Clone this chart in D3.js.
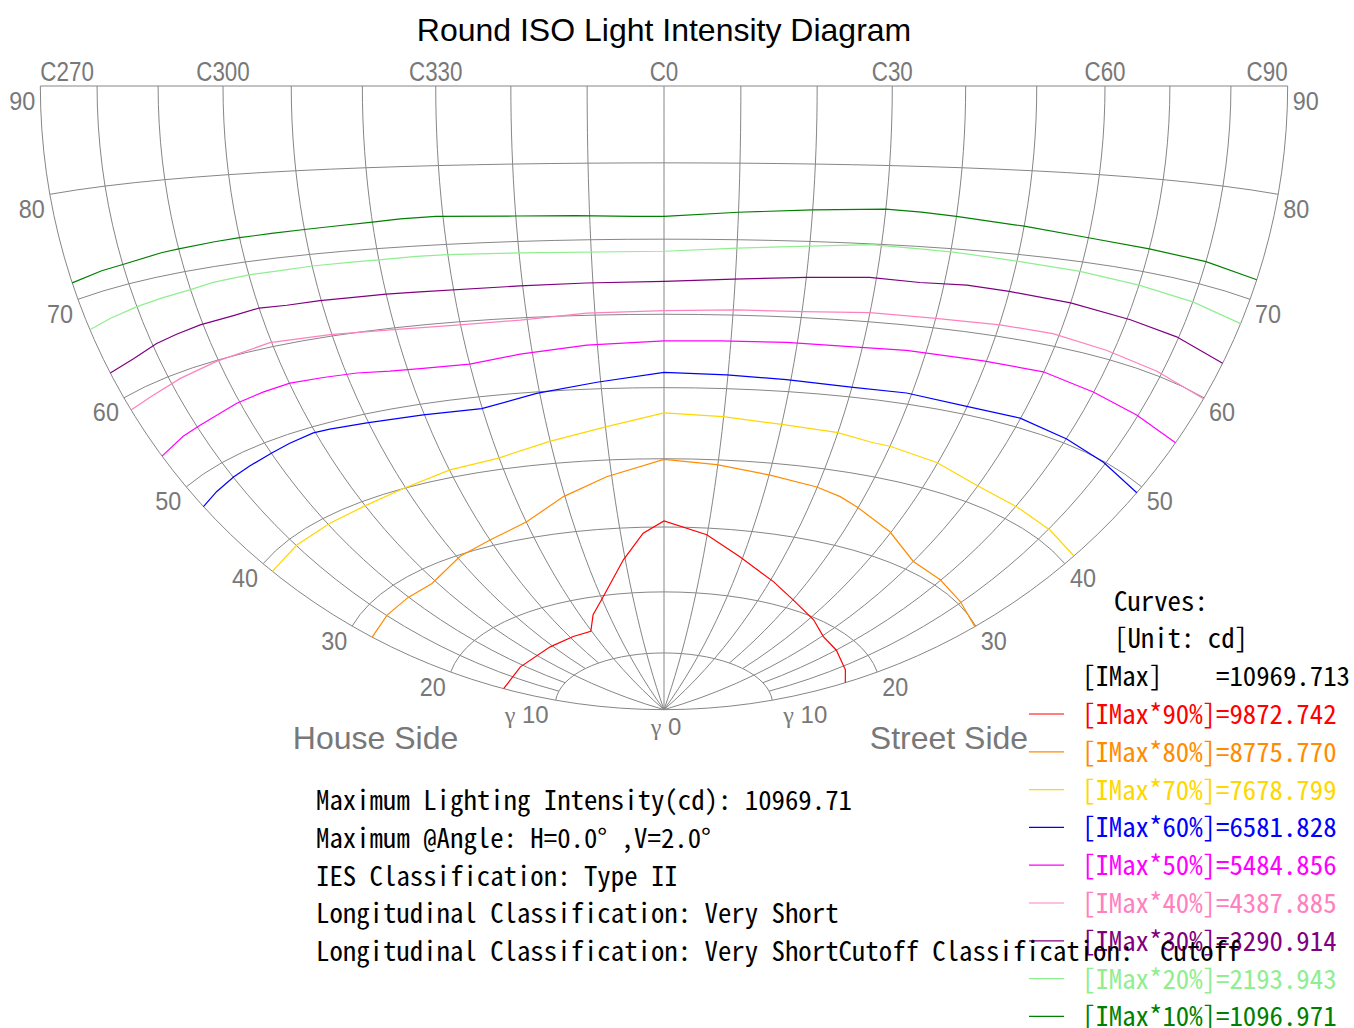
<!DOCTYPE html>
<html>
<head>
<meta charset="utf-8">
<title>Round ISO Light Intensity Diagram</title>
<script src="https://cdn.jsdelivr.net/npm/d3@7"></script>
<style>
  body { margin: 0; background: #fff; }
  svg { display: block; }
</style>
</head>
<body>
<div id="chart"></div>
<script>
const width = 1354, height = 1028;

const chartTitle = "Round ISO Light Intensity Diagram";
const planeTicks = [-90, -60, -30, 0, 30, 60, 90];
const planeLabels = ["C270", "C300", "C330", "C0", "C30", "C60", "C90"];
const gammaRings = [10, 20, 30, 40, 50, 60, 70, 80, 90];
const gammaLabels = ["10", "20", "30", "40", "50", "60", "70", "80", "90"];
const gridPlanes = [-90, -80, -70, -60, -50, -40, -30, -20, -10, 0, 10, 20, 30, 40, 50, 60, 70, 80, 90];
const innerPlanes = [-90, -60, -30, -20, -10, 0, 10, 20, 30, 60, 90];

const maxIntensity = 10969.713;
const levelNames = ["[IMax*90%]", "[IMax*80%]", "[IMax*70%]", "[IMax*60%]", "[IMax*50%]", "[IMax*40%]", "[IMax*30%]", "[IMax*20%]", "[IMax*10%]"];
const levelValues = [9872.742, 8775.770, 7678.799, 6581.828, 5484.856, 4387.885, 3290.914, 2193.943, 1096.971];
const levelColors = ["#ff0000", "#ff8c00", "#ffd700", "#0000ff", "#ff00ff", "#ff80c0", "#800080", "#90ee90", "#008000"];

// isocandela curves as [C angle, gamma angle], C270 written as -90
const iso90 = [[-90,14.9],[-71.6,14.6],[-51.2,14.6],[-38.6,14.8],[-30.3,14.9],[-25.5,17.3],[-19.3,19.8],[-10.5,25.2],[-4.8,29.1],[0,30.9],[9.9,29.0],[19.2,26.1],[31,23.2],[40.2,21.3],[51.5,19.7],[60.5,18.4],[70.1,18.0],[82.5,17.4],[90,16.9]];
const iso80 = [[-90,27.9],[-79.8,28.0],[-70.3,28.0],[-61.3,28.0],[-49.2,29.8],[-40,30.8],[-29.9,32.3],[-20.3,35.2],[-11,37.6],[0,39.9],[9.8,39.3],[20.2,38.3],[29.9,37.4],[35.3,36.6],[39.6,35.7],[49.7,33.6],[60,31.2],[69.8,30.8],[79.6,30.3],[90,29.9]];
const iso70 = [[-90,38.9],[-79.8,39.1],[-69.5,39.2],[-60.5,39.4],[-50.5,40.0],[-39.9,41.0],[-30.5,41.5],[-20.1,43.1],[-9.8,44.7],[0,46.5],[9.9,46.1],[19.7,45.5],[29.8,45.1],[36.8,44.4],[40,44.3],[49.8,43.5],[59.7,42.2],[70.2,41.7],[80.4,41.4],[90,41.1]];
const iso60 = [[-90,47.6],[-85.2,47.9],[-79.9,48.2],[-75.4,48.4],[-69.9,48.7],[-65.6,49.0],[-60.4,49.3],[-57.2,49.2],[-50.3,48.9],[-40.2,48.6],[-30.1,48.4],[-20.5,49.8],[-10.6,50.9],[0,52.1],[9.8,51.9],[19.3,51.6],[30.2,51.3],[39.1,51.4],[49.9,51.0],[59.9,51.1],[70.1,50.5],[79.5,49.9],[90,49.3]];
const iso50 = [[-90,53.6],[-83.6,54.1],[-79.3,54.3],[-70.6,55.0],[-65,55.3],[-59.9,55.5],[-54,55.3],[-48.3,55.1],[-42.9,54.7],[-37.5,54.5],[-30,54.4],[-21.9,55.2],[-11.6,56.0],[0,56.4],[8.4,56.5],[18.4,56.6],[28.6,56.6],[36.9,56.8],[49.5,56.8],[59.9,56.9],[69.9,56.2],[79.7,55.6],[90,55.1]];
const iso40 = [[-90,58.7],[-85,58.9],[-78,59.4],[-70.4,59.9],[-60.3,60.5],[-50.3,60.2],[-40.8,59.8],[-30.6,59.6],[-21,59.7],[-11.2,60.3],[0,60.5],[10.5,60.7],[20.2,60.8],[30,61.2],[39.6,61.2],[50.1,61.4],[58.9,61.4],[68.7,60.9],[79,60.4],[90,59.9]];
const iso30 = [[-90,62.6],[-84.5,62.9],[-79.2,63.5],[-75.1,63.8],[-70.5,64.1],[-64.5,64.3],[-60,64.6],[-55.5,64.4],[-50.2,64.4],[-45,64.3],[-40,64.3],[-35,64.2],[-20.4,64.2],[-11,64.3],[0,64.4],[9.7,64.8],[20,65.3],[29,65.7],[36.4,65.5],[43.4,65.7],[50,65.5],[60,65.2],[70.6,64.7],[79.6,64.3],[90,63.6]];
const iso20 = [[-90,67.0],[-85.5,67.3],[-80,67.6],[-75,67.8],[-70,68.0],[-66,68.3],[-60,68.5],[-55,68.5],[-50,68.6],[-44,68.6],[-40,68.6],[-34.5,68.7],[-30,68.7],[-20,68.5],[0,68.4],[10,68.9],[20,69.4],[28.4,69.9],[35.5,69.7],[40.4,69.6],[50,69.2],[60,68.9],[70,68.5],[80,68.1],[90,67.6]];
const iso10 = [[-90,71.6],[-84,71.9],[-80,72.0],[-73,72.4],[-70,72.5],[-64,72.7],[-60,72.8],[-55,72.9],[-50,73.0],[-46,73.1],[-40,73.3],[-36,73.5],[-31,73.6],[-20,73.3],[-12,73.2],[-4,73.0],[0,73.0],[10,73.6],[20,74.1],[30,74.5],[35,74.3],[40,74.0],[50,73.4],[60,72.8],[70,72.5],[80,72.3],[90,71.9]];
const isoCurves = [iso90, iso80, iso70, iso60, iso50, iso40, iso30, iso20, iso10];

const infoLines = [
  "Maximum Lighting Intensity(cd): 10969.71",
  "Maximum @Angle: H=0.0° ,V=2.0°",
  "IES Classification: Type II",
  "Longitudinal Classification: Very Short",
  "Longitudinal Classification: Very ShortCutoff Classification:  Cutoff"
];

const gridColor = "#868686";
const labelColor = "#787878";
const sansFont = "'Liberation Sans', Arial, sans-serif";
const monoFont = "'Noto Sans Mono CJK JP', 'Noto Sans Mono CJK SC', 'DejaVu Sans Mono', monospace";

// lower hemisphere seen from the C0 horizon: lon = C, lat = gamma - 90
const projection = d3.geoAzimuthalEqualArea()
    .rotate([0, 0])
    .scale(441)
    .translate([664, 86]);
const pt = (c, g) => projection([c, g - 90]);
const line = d3.line();

const svg = d3.select("#chart")
    .append("svg")
    .attr("width", width)
    .attr("height", height);

const grid = svg.append("g")
    .attr("fill", "none")
    .attr("stroke", gridColor)
    .attr("stroke-width", 1);

// rings of constant gamma
grid.selectAll("path.ring")
    .data(gammaRings)
    .enter()
    .append("path")
    .attr("class", "ring")
    .attr("d", g => line(d3.range(-90, 90.1, g === 90 ? 180 : 5).map(c => pt(c, g))));

// C planes, only some of them reach the nadir
grid.selectAll("path.plane")
    .data(gridPlanes)
    .enter()
    .append("path")
    .attr("class", "plane")
    .attr("d", c => {
        const start = innerPlanes.includes(c) ? 0 : 10;
        return line(d3.range(start, 90.1, 2).map(g => pt(c, g)));
    });

svg.append("g")
    .attr("fill", "none")
    .attr("stroke-width", 1.2)
    .selectAll("path")
    .data(isoCurves)
    .enter()
    .append("path")
    .attr("stroke", (d, i) => levelColors[i])
    .attr("d", d => line(d.map(p => pt(p[0], p[1]))));

svg.append("text")
    .attr("x", 664)
    .attr("y", 41)
    .attr("text-anchor", "middle")
    .style("font", "32px " + sansFont)
    .text(chartTitle);

// condensed grey labels
svg.append("g")
    .selectAll("text")
    .data(planeTicks)
    .enter()
    .append("text")
    .attr("transform", c => `translate(${pt(c, 90)[0]},81) scale(0.8,1)`)
    .attr("text-anchor", c => c === -90 ? "start" : c === 90 ? "end" : "middle")
    .attr("fill", labelColor)
    .style("font", "28px " + sansFont)
    .text((c, i) => planeLabels[i]);

[-90, 90].forEach(side => {
    const g = svg.append("g")
        .selectAll("text")
        .data(gammaRings)
        .enter()
        .append("text")
        .attr("fill", labelColor)
        .attr("text-anchor", side < 0 ? "end" : "start");

    g.filter(d => d > 10)
        .attr("transform", d => {
            const p = pt(side, d);
            return `translate(${side < 0 ? p[0] - 5 : p[0] + 5},${p[1] + 23.5}) scale(0.9,1)`;
        })
        .style("font", "26px " + sansFont)
        .text(d => gammaLabels[gammaRings.indexOf(d)]);

    const tenth = g.filter(d => d === 10)
        .attr("x", d => side < 0 ? pt(side, d)[0] - 7 : pt(side, d)[0] + 11)
        .attr("y", d => pt(side, d)[1] + 23)
        .style("font", "24px " + sansFont);
    tenth.append("tspan").style("font-family", "'Liberation Serif', serif").text("γ");
    tenth.append("tspan").text(d => " " + gammaLabels[gammaRings.indexOf(d)]);
});

const nadirLabel = svg.append("text")
    .attr("x", pt(0, 0)[0] + 2)
    .attr("y", pt(0, 0)[1] + 25)
    .attr("text-anchor", "middle")
    .attr("fill", labelColor)
    .style("font", "24px " + sansFont);
nadirLabel.append("tspan").style("font-family", "'Liberation Serif', serif").text("γ");
nadirLabel.append("tspan").text(" 0");

svg.append("text")
    .attr("x", 375.5)
    .attr("y", 749)
    .attr("text-anchor", "middle")
    .attr("fill", labelColor)
    .style("font", "32px " + sansFont)
    .text("House Side");

svg.append("text")
    .attr("x", 949)
    .attr("y", 749)
    .attr("text-anchor", "middle")
    .attr("fill", labelColor)
    .style("font", "32px " + sansFont)
    .text("Street Side");

// legend
const legend = svg.append("g")
    .style("font", "26.8px " + monoFont);

legend.append("text").attr("x", 1114).attr("y", 611).text("Curves:");
legend.append("text").attr("x", 1114).attr("y", 648).text("[Unit: cd]");
legend.append("text")
    .attr("x", 1082)
    .attr("y", 686)
    .attr("xml:space", "preserve")
    .text("[IMax]    =" + d3.format(".3f")(maxIntensity));

const rows = legend.selectAll("g.row")
    .data(levelValues)
    .enter()
    .append("g")
    .attr("class", "row")
    .attr("transform", (d, i) => `translate(0, ${724 + i * 37.8})`);

rows.append("line")
    .attr("x1", 1029)
    .attr("x2", 1064)
    .attr("y1", -10)
    .attr("y2", -10)
    .attr("stroke", (d, i) => levelColors[i])
    .attr("stroke-width", 1.2);

rows.append("text")
    .attr("x", 1082)
    .attr("fill", (d, i) => levelColors[i])
    .text((d, i) => levelNames[i] + "=" + d3.format(".3f")(d));

svg.append("g")
    .style("font", "26.8px " + monoFont)
    .selectAll("text")
    .data(infoLines)
    .enter()
    .append("text")
    .attr("x", 316)
    .attr("y", (d, i) => 810 + i * 37.8)
    .attr("xml:space", "preserve")
    .text(d => d);
</script>
</body>
</html>
